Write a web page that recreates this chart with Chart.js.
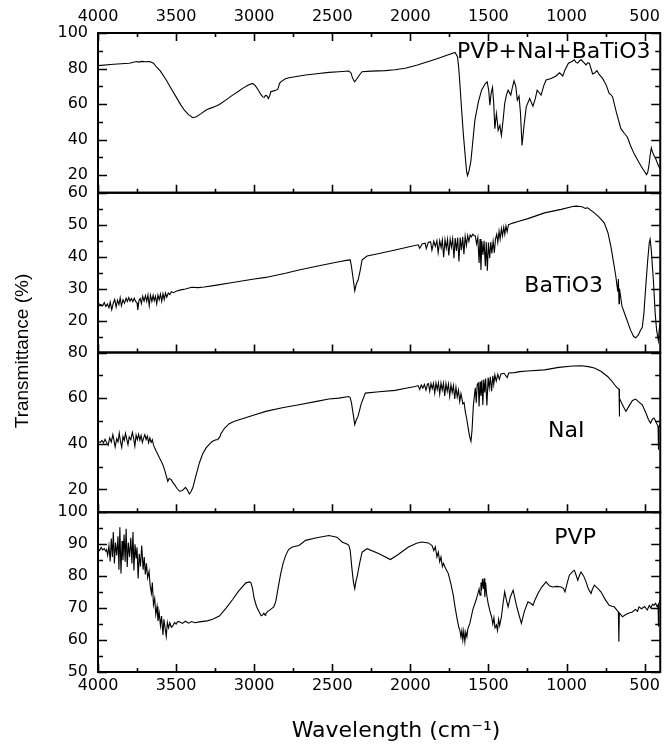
<!DOCTYPE html>
<html>
<head>
<meta charset="utf-8">
<title>FTIR spectra</title>
<script src="https://cdn.jsdelivr.net/npm/chart.js@4.4.1/dist/chart.umd.min.js"></script>
<style>
  html, body { margin: 0; padding: 0; background: #fff; }
  #wrap { width: 667px; height: 745px; }
</style>
</head>
<body>
<div id="wrap"><canvas id="graph" width="667" height="745"></canvas></div>
<script>
// x axis: wavenumber, read right to left
const xTickLabels = [4000, 3500, 3000, 2500, 2000, 1500, 1000, 500]

// labelled y ticks for every panel
const mixTicks = [20, 40, 60, 80, 100]
const batio3Ticks = [20, 30, 40, 50, 60]
const naiTicks = [20, 40, 60, 80]
const pvpTicks = [50, 60, 70, 80, 90, 100]

// spectra, [wavenumber, transmittance %]
const mixSpectrum = [
  [4000, 81.6], [3900, 82.4], [3800, 83.0], [3753, 83.9], [3740, 83.6], [3720, 84.0], [3700, 83.8],
  [3669, 83.9], [3645, 83.0], [3627, 81.0], [3600, 78.5], [3563, 73.5], [3530, 68.5], [3500, 64.0],
  [3470, 59.5], [3447, 56.5], [3420, 54.0], [3393, 52.3], [3370, 52.8], [3340, 54.6], [3310, 56.5],
  [3287, 57.4], [3250, 58.6], [3223, 59.7], [3180, 62.3], [3138, 65.0], [3100, 67.2], [3074, 68.8],
  [3040, 70.5], [3011, 71.6], [2995, 70.6], [2975, 68.0], [2957, 65.4], [2945, 64.0], [2936, 63.7],
  [2928, 64.8], [2919, 64.6], [2909, 63.1], [2900, 64.8], [2894, 66.9], [2875, 67.4], [2862, 67.8],
  [2850, 68.2], [2845, 69.4], [2838, 71.5], [2830, 72.5], [2800, 74.2], [2777, 74.8], [2720, 75.6],
  [2671, 76.3], [2600, 77.0], [2522, 77.8], [2458, 78.2], [2394, 78.6], [2380, 77.5], [2373, 75.4],
  [2364, 73.5], [2356, 72.5], [2348, 73.5], [2341, 74.4], [2325, 76.5], [2309, 78.2], [2250, 78.5],
  [2160, 78.8], [2100, 79.3], [2033, 80.1], [1960, 81.8], [1884, 83.9], [1820, 85.8], [1757, 87.7],
  [1714, 89.0], [1698, 86.7], [1690, 80.0], [1683, 71.6], [1672, 57.0], [1661, 43.3], [1648, 30.0],
  [1640, 22.0], [1634, 19.6], [1625, 22.0], [1612, 28.1], [1600, 39.0], [1587, 50.8], [1565, 61.0],
  [1544, 67.8], [1520, 71.5], [1508, 72.5], [1498, 67.5], [1491, 59.3], [1483, 66.0], [1474, 69.4],
  [1466, 60.0], [1459, 46.1], [1449, 54.6], [1443, 50.0], [1438, 45.1], [1427, 48.0], [1417, 42.3],
  [1405, 52.0], [1396, 60.3], [1385, 65.0], [1374, 67.8], [1357, 65.0], [1345, 70.0], [1336, 73.1],
  [1325, 70.0], [1315, 62.2], [1304, 64.4], [1295, 55.0], [1285, 36.6], [1272, 48.0], [1258, 58.4],
  [1236, 63.1], [1215, 58.8], [1200, 63.0], [1188, 67.8], [1163, 65.0], [1145, 70.5], [1131, 73.5],
  [1099, 74.4], [1067, 75.8], [1045, 77.6], [1024, 75.8], [1010, 79.2], [988, 83.0], [965, 84.0],
  [950, 84.9], [940, 83.5], [928, 83.0], [915, 84.5], [907, 84.9], [890, 83.5], [875, 82.0],
  [865, 83.2], [854, 83.0], [840, 79.0], [833, 76.9], [820, 77.5], [805, 78.8], [790, 76.5],
  [769, 74.4], [745, 70.5], [727, 66.0], [715, 65.2], [705, 64.0], [680, 55.0], [652, 46.1],
  [630, 43.5], [610, 41.3], [590, 36.5], [567, 31.9], [545, 28.5], [525, 25.3], [505, 22.5],
  [488, 20.2], [480, 21.5], [471, 26.2], [465, 31.0], [457, 35.3], [450, 33.0], [440, 31.0],
  [429, 29.1], [415, 26.0], [401, 23.4]
]

const batio3Spectrum = [
  [4000, 25.3], [3985, 25.0], [3970, 24.6], [3960, 25.6], [3950, 24.4], [3940, 25.2], [3930, 24.0],
  [3922, 25.8], [3912, 23.4], [3902, 25.5], [3893, 26.6], [3884, 24.2], [3875, 26.4], [3866, 25.0],
  [3858, 27.1], [3850, 24.6], [3840, 26.5], [3830, 25.4], [3820, 27.0], [3812, 26.0], [3803, 27.2],
  [3795, 26.1], [3786, 26.9], [3777, 25.9], [3768, 27.0], [3759, 26.0], [3750, 25.5], [3745, 23.3],
  [3738, 26.2], [3730, 26.9], [3722, 25.3], [3714, 27.6], [3705, 26.1], [3696, 27.8], [3688, 26.0],
  [3680, 28.0], [3672, 24.6], [3664, 27.9], [3655, 26.0], [3647, 27.9], [3640, 26.2], [3632, 27.6],
  [3624, 25.2], [3616, 28.0], [3608, 26.5], [3600, 28.3], [3592, 26.0], [3584, 28.4], [3576, 26.6],
  [3568, 28.6], [3560, 27.3], [3550, 28.6], [3540, 28.1], [3530, 29.0], [3515, 28.7], [3500, 29.2],
  [3470, 29.6], [3440, 29.9], [3400, 30.4], [3360, 30.3], [3320, 30.5], [3250, 31.0], [3138, 31.9],
  [3000, 33.0], [2926, 33.5], [2800, 34.8], [2713, 35.8], [2600, 37.0], [2458, 38.4], [2400, 38.9],
  [2385, 39.0], [2377, 36.9], [2366, 33.0], [2356, 29.3], [2346, 31.5], [2335, 32.6], [2322, 35.5],
  [2309, 39.0], [2277, 40.2], [2200, 41.0], [2097, 42.1], [2000, 43.2], [1950, 43.7], [1940, 42.6],
  [1925, 44.0], [1905, 44.2], [1898, 42.5], [1885, 44.5], [1870, 44.6], [1862, 42.0], [1850, 44.8],
  [1840, 43.2], [1830, 45.0], [1822, 41.2], [1812, 45.0], [1803, 42.8], [1795, 45.2], [1787, 39.8],
  [1778, 45.3], [1770, 42.6], [1762, 45.4], [1754, 40.4], [1745, 45.5], [1737, 43.0], [1729, 45.6],
  [1721, 39.5], [1713, 45.8], [1705, 41.8], [1697, 46.0], [1689, 38.5], [1681, 46.0], [1673, 42.0],
  [1665, 46.2], [1657, 40.8], [1649, 46.4], [1641, 43.5], [1633, 46.6], [1625, 44.8], [1617, 46.8],
  [1609, 46.2], [1600, 47.0], [1592, 46.6], [1584, 46.5], [1576, 44.0], [1568, 46.0], [1560, 38.0],
  [1554, 45.5], [1548, 35.8], [1542, 44.8], [1535, 40.5], [1528, 45.0], [1520, 37.0], [1514, 44.6],
  [1507, 35.6], [1500, 44.4], [1492, 39.5], [1485, 44.6], [1478, 41.0], [1470, 44.8], [1462, 41.2],
  [1455, 45.5], [1447, 47.0], [1440, 44.5], [1432, 48.0], [1425, 45.5], [1417, 48.8], [1410, 46.5],
  [1402, 49.2], [1395, 47.0], [1388, 49.6], [1380, 47.8], [1372, 50.0], [1360, 50.2], [1345, 50.5],
  [1310, 51.0], [1247, 51.9], [1141, 53.7], [1035, 54.8], [960, 55.7], [939, 55.8], [900, 55.6],
  [880, 55.1], [865, 55.3], [822, 53.7], [790, 52.3], [758, 50.5], [735, 47.5], [716, 43.2],
  [700, 38.5], [684, 33.7], [672, 29.0], [668, 33.0], [664, 25.3], [661, 30.0], [645, 24.5],
  [620, 21.1], [590, 17.0], [570, 15.0], [557, 14.6], [540, 15.5], [528, 16.8], [515, 17.9],
  [505, 22.0], [493, 30.5], [480, 39.0], [470, 44.5], [465, 45.5], [458, 42.5], [444, 32.6],
  [432, 22.0], [423, 16.9], [418, 15.5], [412, 13.7], [406, 17.5], [401, 19.0]
]

const naiSpectrum = [
  [4000, 41.1], [3985, 40.6], [3975, 41.5], [3965, 40.4], [3955, 42.0], [3945, 40.6], [3935, 39.4],
  [3925, 42.6], [3915, 40.8], [3905, 44.0], [3898, 41.6], [3890, 38.6], [3880, 42.2], [3872, 40.8],
  [3864, 44.7], [3856, 41.0], [3848, 38.4], [3840, 43.2], [3832, 41.5], [3824, 44.6], [3816, 42.0],
  [3808, 39.6], [3800, 43.0], [3790, 41.8], [3780, 45.0], [3772, 42.5], [3764, 39.0], [3756, 43.8],
  [3748, 41.8], [3740, 44.2], [3732, 41.6], [3724, 43.6], [3716, 40.6], [3708, 42.5], [3700, 44.0],
  [3692, 41.8], [3684, 43.4], [3676, 40.5], [3668, 42.6], [3660, 40.6], [3652, 41.8], [3645, 39.5],
  [3636, 38.0], [3627, 36.7], [3618, 35.5], [3606, 33.8], [3596, 32.5], [3585, 30.8], [3574, 28.7],
  [3565, 26.5], [3553, 23.5], [3545, 24.8], [3531, 24.3], [3520, 23.0], [3510, 22.1], [3495, 20.5],
  [3478, 19.2], [3460, 19.5], [3440, 20.9], [3428, 19.8], [3415, 18.0], [3405, 19.0], [3393, 20.7],
  [3375, 25.5], [3351, 31.6], [3330, 35.5], [3308, 38.2], [3285, 40.0], [3266, 41.1], [3245, 41.8],
  [3234, 41.8], [3220, 43.0], [3213, 44.4], [3190, 46.8], [3160, 48.8], [3130, 49.8], [3096, 50.5],
  [3000, 52.6], [2926, 54.2], [2820, 55.8], [2713, 57.1], [2600, 58.6], [2522, 59.6], [2458, 60.0],
  [2394, 60.7], [2385, 60.2], [2377, 57.9], [2366, 53.0], [2356, 48.4], [2346, 50.5], [2335, 52.0],
  [2315, 57.5], [2288, 62.2], [2200, 62.8], [2097, 63.4], [2030, 64.3], [1969, 65.1], [1950, 65.5],
  [1940, 63.8], [1930, 65.8], [1920, 64.4], [1910, 66.0], [1900, 63.5], [1890, 66.2], [1884, 66.3],
  [1876, 63.0], [1868, 66.4], [1860, 64.2], [1852, 66.5], [1844, 62.2], [1836, 66.6], [1828, 63.8],
  [1820, 66.7], [1812, 61.8], [1804, 66.6], [1796, 63.5], [1788, 66.6], [1780, 61.0], [1772, 66.4],
  [1764, 63.0], [1756, 66.2], [1748, 60.8], [1740, 65.8], [1732, 62.5], [1724, 65.5], [1716, 59.6],
  [1708, 64.8], [1700, 60.5], [1692, 63.5], [1684, 58.5], [1676, 62.0], [1672, 60.7], [1664, 57.5],
  [1656, 58.0], [1648, 54.0], [1640, 51.3], [1630, 47.0], [1620, 43.0], [1612, 41.1], [1605, 46.0],
  [1597, 56.4], [1590, 61.0], [1584, 64.5], [1578, 58.0], [1572, 66.0], [1565, 66.6], [1560, 56.4],
  [1554, 67.2], [1548, 61.0], [1542, 67.8], [1536, 57.0], [1530, 68.2], [1524, 62.5], [1518, 68.6],
  [1510, 56.8], [1502, 69.0], [1495, 64.5], [1488, 69.4], [1480, 63.0], [1472, 69.8], [1466, 66.0],
  [1459, 70.2], [1450, 67.5], [1440, 70.4], [1430, 68.2], [1420, 70.6], [1400, 70.9], [1380, 69.0],
  [1370, 71.0], [1332, 71.2], [1300, 71.6], [1250, 71.9], [1141, 72.4], [1050, 73.5], [960, 74.1],
  [907, 74.2], [860, 73.8], [822, 73.2], [780, 71.8], [737, 69.5], [710, 67.5], [684, 65.1],
  [670, 64.2], [664, 64.0], [662, 52.0], [660, 60.0], [645, 57.5], [620, 54.2], [600, 56.5],
  [578, 59.0], [557, 59.6], [540, 58.5], [515, 57.1], [495, 54.0], [475, 50.5], [462, 49.1],
  [450, 50.8], [440, 51.3], [430, 50.0], [420, 48.5], [414, 47.6], [412, 37.4], [410, 47.0],
  [401, 48.4]
]

const pvpSpectrum = [
  [4000, 88.6], [3990, 88.0], [3980, 89.0], [3970, 88.2], [3960, 88.6], [3950, 87.8], [3945, 88.3],
  [3938, 86.5], [3930, 89.5], [3922, 84.6], [3915, 91.8], [3908, 86.0], [3902, 93.8], [3895, 84.0],
  [3888, 90.5], [3880, 86.5], [3872, 92.5], [3866, 82.0], [3860, 95.3], [3853, 80.8], [3846, 91.0],
  [3840, 85.0], [3833, 93.0], [3826, 84.5], [3820, 94.8], [3813, 82.9], [3806, 90.5], [3798, 86.0],
  [3790, 92.0], [3783, 84.0], [3776, 93.8], [3770, 81.8], [3763, 90.0], [3756, 85.5], [3750, 89.0],
  [3743, 79.3], [3736, 87.0], [3728, 83.0], [3720, 89.6], [3711, 82.0], [3704, 86.0], [3697, 80.5],
  [3690, 84.0], [3682, 79.5], [3673, 81.5], [3666, 77.0], [3658, 74.6], [3652, 78.0], [3645, 71.0],
  [3637, 73.0], [3630, 68.0], [3622, 70.5], [3616, 66.0], [3608, 68.5], [3600, 64.5], [3593, 67.5],
  [3584, 61.6], [3578, 66.5], [3570, 63.5], [3563, 61.1], [3556, 65.5], [3548, 63.8], [3540, 65.4],
  [3530, 64.0], [3521, 64.4], [3510, 65.5], [3500, 65.0], [3490, 65.8], [3478, 65.7], [3460, 65.2],
  [3440, 65.9], [3420, 65.3], [3400, 65.8], [3380, 65.4], [3351, 65.7], [3300, 66.0], [3266, 66.5],
  [3223, 67.5], [3180, 70.0], [3138, 72.7], [3100, 75.3], [3053, 77.9], [3030, 78.2], [3021, 78.0],
  [3010, 76.0], [3000, 73.0], [2985, 70.5], [2968, 68.8], [2955, 67.6], [2947, 67.8], [2938, 68.4],
  [2930, 67.8], [2926, 68.2], [2915, 68.9], [2894, 69.6], [2875, 70.4], [2862, 72.0], [2846, 76.5],
  [2830, 80.8], [2815, 84.0], [2798, 86.5], [2780, 88.3], [2756, 89.1], [2713, 89.6], [2671, 91.2],
  [2600, 92.0], [2522, 92.7], [2470, 92.2], [2437, 90.7], [2400, 89.9], [2394, 89.6], [2385, 88.0],
  [2373, 81.8], [2364, 78.0], [2356, 76.1], [2348, 78.5], [2341, 79.8], [2325, 84.0], [2309, 87.5],
  [2277, 88.6], [2200, 87.0], [2128, 85.2], [2080, 86.7], [2012, 89.1], [1960, 90.3], [1927, 90.7],
  [1884, 90.4], [1860, 89.5], [1850, 88.0], [1840, 89.2], [1830, 86.0], [1821, 87.5], [1812, 84.5],
  [1804, 86.0], [1795, 83.0], [1788, 84.0], [1775, 82.5], [1757, 80.8], [1740, 77.5], [1725, 74.0],
  [1714, 70.4], [1700, 66.5], [1690, 64.0], [1683, 63.1], [1676, 61.0], [1670, 63.0], [1664, 60.0],
  [1658, 62.8], [1651, 59.5], [1645, 62.5], [1638, 61.0], [1632, 63.5], [1619, 65.2], [1600, 69.5],
  [1576, 73.0], [1560, 76.0], [1554, 74.0], [1548, 78.0], [1544, 75.5], [1538, 79.2], [1532, 76.0],
  [1527, 79.3], [1523, 73.5], [1518, 78.0], [1512, 74.5], [1502, 71.5], [1490, 69.0], [1480, 67.3],
  [1472, 65.0], [1465, 67.0], [1458, 63.8], [1449, 64.7], [1442, 63.0], [1435, 66.5], [1428, 64.5],
  [1417, 67.3], [1405, 72.0], [1396, 75.1], [1385, 72.5], [1374, 70.4], [1360, 73.5], [1342, 75.6],
  [1330, 73.0], [1321, 70.9], [1305, 68.0], [1289, 65.2], [1270, 69.0], [1247, 72.0], [1230, 71.5],
  [1215, 70.9], [1200, 72.8], [1183, 74.6], [1160, 76.5], [1131, 78.2], [1110, 77.0], [1088, 76.6],
  [1060, 76.8], [1035, 76.6], [1020, 76.2], [1010, 75.1], [995, 78.0], [982, 80.3], [960, 81.5],
  [950, 81.8], [940, 80.5], [928, 78.7], [915, 80.5], [907, 81.3], [890, 80.0], [875, 78.2],
  [860, 76.0], [843, 74.6], [835, 75.8], [822, 77.2], [800, 76.2], [780, 75.1], [750, 72.5],
  [727, 70.9], [710, 70.6], [695, 70.4], [680, 69.5], [668, 68.8], [665, 59.5], [662, 68.5],
  [650, 67.8], [642, 67.3], [620, 68.0], [600, 68.5], [578, 68.8], [560, 69.6], [545, 69.0],
  [536, 70.4], [520, 69.8], [500, 70.5], [483, 69.4], [470, 70.8], [460, 70.0], [450, 71.2],
  [440, 70.9], [430, 71.5], [420, 70.5], [414, 71.0], [412, 64.2], [410, 71.0], [401, 72.5]
]

/**
 * Panels from top to bottom. Each one gets its own y axis in one stack.
 */
const PANELS = [
  { id: 'yMix', name: 'PVP+NaI+BaTiO3', data: mixSpectrum, min: 10, max: 100, step: 10, ticks: mixTicks, at: [1082, 86.0] },
  { id: 'yBaTiO3', name: 'BaTiO3', data: batio3Spectrum, min: 10, max: 60, step: 5, ticks: batio3Ticks, at: [1018, 28.9] },
  { id: 'yNaI', name: 'NaI', data: naiSpectrum, min: 10, max: 80, step: 10, ticks: naiTicks, at: [1002, 43.1] },
  { id: 'yPVP', name: 'PVP', data: pvpSpectrum, min: 50, max: 100, step: 5, ticks: pvpTicks, at: [945, 90.2] },
]

const FONT = 'DejaVu Sans'

function xAxis(position, height, padding) {
  return {
    type: 'linear',
    position: position,
    min: 400,
    max: 4000,
    reverse: true,
    grid: { display: false, drawTicks: false },
    border: { display: false },
    ticks: {
      stepSize: 250,
      includeBounds: false,
      autoSkip: false,
      maxRotation: 0,
      padding: padding,
      color: '#000',
      font: { family: FONT, size: 16 },
      callback: (v) => xTickLabels.includes(v) ? String(v) : '',
    },
    afterFit: (scale) => { scale.height = height },
  }
}

const scales = { x: xAxis('bottom', 73, 4), x2: xAxis('top', 33, 7) }
PANELS.forEach((p, i) => {
  scales[p.id] = {
    type: 'linear',
    position: 'left',
    stack: 'panels',
    stackWeight: 1,
    weight: PANELS.length - i,   // higher weight sits higher in the stack
    min: p.min,
    max: p.max,
    grid: { display: false, drawTicks: false },
    border: { display: false },
    ticks: {
      stepSize: p.step,
      autoSkip: false,
      padding: 10,
      color: '#000',
      font: { family: FONT, size: 16 },
      callback: (v) => p.ticks.includes(v) ? String(v) : '',
    },
    afterFit: (scale) => { scale.width = 98 },
  }
})

/**
 * Draws the panel frames, the inward tick marks and the texts.
 */
const panelFrame = {
  id: 'panelFrame',
  afterDatasetsDraw(chart) {
    const { ctx, chartArea } = chart
    const { left, right } = chartArea
    const xs = chart.scales.x
    ctx.save()
    ctx.strokeStyle = '#000'
    ctx.lineWidth = 1.6
    ctx.beginPath()
    PANELS.forEach((p, i) => {
      const ys = chart.scales[p.id]
      ys.ticks.forEach((t) => {
        const y = Math.round(ys.getPixelForValue(t.value)) + 0.5
        const len = p.ticks.includes(t.value) ? 9 : 5
        ctx.moveTo(left, y); ctx.lineTo(left + len, y)
        ctx.moveTo(right, y); ctx.lineTo(right - len, y)
      })
      xs.ticks.forEach((t) => {
        const x = Math.round(xs.getPixelForValue(t.value)) + 0.5
        const len = xTickLabels.includes(t.value) ? 8 : 4
        ctx.moveTo(x, ys.bottom); ctx.lineTo(x, ys.bottom - len)
        if (i === 0) { ctx.moveTo(x, ys.top); ctx.lineTo(x, ys.top + len) }
      })
    })
    ctx.stroke()

    ctx.lineWidth = 2
    PANELS.forEach((p) => {
      const ys = chart.scales[p.id]
      ctx.strokeRect(left, ys.top, right - left, ys.bottom - ys.top)
    })

    // panel names
    ctx.fillStyle = '#000'
    ctx.font = '22px "' + FONT + '"'
    ctx.textAlign = 'center'
    ctx.textBaseline = 'alphabetic'
    PANELS.forEach((p) => {
      const ys = chart.scales[p.id]
      ctx.fillText(p.name, xs.getPixelForValue(p.at[0]), ys.getPixelForValue(p.at[1]))
    })

    // axis titles
    ctx.fillText('Wavelength (cm\u207B\u00B9)', 396, 737)
    ctx.translate(23, 351)
    ctx.rotate(-Math.PI / 2)
    ctx.font = '19px "Liberation Sans"'
    ctx.textBaseline = 'middle'
    ctx.fillText('Transmittance (%)', 0, 0)
    ctx.restore()
  },
}

const ctx = document.getElementById('graph').getContext('2d')
new Chart(ctx, {
  type: 'line',
  data: {
    datasets: PANELS.map((p) => ({
      label: p.name,
      data: p.data.map(([x, y]) => ({ x, y })),
      xAxisID: 'x',
      yAxisID: p.id,
      borderColor: '#000',
      borderWidth: 1.1,
      pointRadius: 0,
      tension: 0,
      fill: false,
    })),
  },
  options: {
    responsive: false,
    animation: false,
    devicePixelRatio: 1,
    layout: { padding: { left: 0, right: 4, top: 0, bottom: 0 } },
    plugins: { legend: { display: false }, tooltip: { enabled: false } },
    scales: scales,
  },
  plugins: [panelFrame],
})
</script>
</body>
</html>
